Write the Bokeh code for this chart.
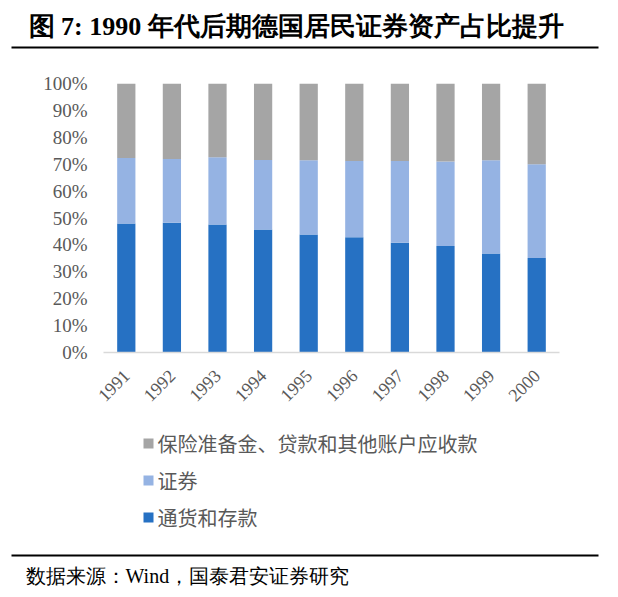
from math import pi

from bokeh.plotting import figure
from bokeh.layouts import column
from bokeh.models import ColumnDataSource, Range1d, FixedTicker
from bokeh.core.properties import value
from bokeh.embed import file_html
from bokeh.resources import INLINE

# ---------------- data ----------------
years = ["1991", "1992", "1993", "1994", "1995", "1996", "1997", "1998", "1999", "2000"]
cash_deposits = [48.0, 48.2, 47.6, 45.7, 43.9, 42.8, 40.8, 39.6, 36.8, 35.1]
securities = [24.3, 23.7, 25.0, 25.9, 27.6, 28.4, 30.4, 31.4, 34.7, 34.9]
insurance_other = [27.7, 28.1, 27.4, 28.4, 28.5, 28.8, 28.8, 29.0, 28.5, 30.0]

series_keys = ["cash", "sec", "other"]
series_names = ["通货和存款", "证券", "保险准备金、贷款和其他账户应收款"]
series_colors = ["#2671C3", "#95B3E3", "#A5A5A5"]

y_ticks = [0, 10, 20, 30, 40, 50, 60, 70, 80, 90, 100]
y_tick_labels = ["0%", "10%", "20%", "30%", "40%", "50%", "60%", "70%", "80%", "90%", "100%"]

title_text = "图 7: 1990 年代后期德国居民证券资产占比提升"
source_text = "数据来源：Wind，国泰君安证券研究"

LABEL_GRAY = "#595959"
W = 602


def blank_fig(h):
    f = figure(width=W, height=h, x_range=Range1d(0, W), y_range=Range1d(h, 0),
               output_backend="svg", toolbar_location=None, min_border=0,
               x_axis_location=None, y_axis_location=None, frame_align=False)
    f.grid.visible = False
    f.outline_line_color = None
    return f


# ---------------- title ----------------
TH = 60
tp = blank_fig(TH)
tp.text(x=[28], y=[26], text=[title_text], text_font=value("Liberation Serif"),
        text_font_style="bold", text_font_size="26px", text_baseline="middle",
        text_color="black")
tp.segment(x0=[11], y0=[47], x1=[598], y1=[47], line_color="black", line_width=2)

# ---------------- chart ----------------
n = len(years)
xpos = [i + 0.5 for i in range(n)]
src = ColumnDataSource(dict(x=xpos, cash=cash_deposits, sec=securities, other=insurance_other))

CH = 360
p = figure(width=W, height=CH, x_range=Range1d(0, n), y_range=Range1d(0, 100),
           output_backend="svg", toolbar_location=None, frame_align=False,
           min_border_left=103, min_border_right=W - 559,
           min_border_top=83 - TH, min_border_bottom=TH + CH - 352)
p.vbar_stack(series_keys, x="x", width=0.4, color=series_colors, line_color=None, source=src)

p.grid.visible = False
p.outline_line_color = None

p.yaxis.ticker = FixedTicker(ticks=y_ticks)
p.yaxis.major_label_overrides = {t: l for t, l in zip(y_ticks, y_tick_labels)}
p.yaxis.axis_line_color = None
p.yaxis.major_tick_line_color = None
p.yaxis.major_tick_out = 0
p.yaxis.major_tick_in = 0
p.yaxis.minor_tick_line_color = None
p.yaxis.major_label_text_font = "Liberation Serif"
p.yaxis.major_label_text_font_size = "19px"
p.yaxis.major_label_text_color = LABEL_GRAY
p.yaxis.major_label_standoff = 16

p.xaxis.ticker = FixedTicker(ticks=xpos)
p.xaxis.major_label_overrides = {x: y for x, y in zip(xpos, years)}
p.xaxis.axis_line_color = "#D9D9D9"
p.xaxis.axis_line_width = 1.5
p.xaxis.major_tick_line_color = None
p.xaxis.major_tick_out = 0
p.xaxis.major_tick_in = 0
p.xaxis.minor_tick_line_color = None
p.xaxis.major_label_orientation = pi / 4
p.xaxis.major_label_text_font = "Liberation Serif"
p.xaxis.major_label_text_font_size = "18px"
p.xaxis.major_label_text_color = LABEL_GRAY
p.xaxis.major_label_standoff = 20

# ---------------- legend + source ----------------
BH = 172
OFF = TH + CH
bp = blank_fig(BH)
rows = [443 - OFF, 480 - OFF, 517 - OFF]
order = [2, 1, 0]
bp.rect(x=[148] * 3, y=rows, width=10, height=10,
        color=[series_colors[i] for i in order], line_color=None)
bp.text(x=[157] * 3, y=rows, text=[series_names[i] for i in order],
        text_font=value("Noto Sans CJK SC"), text_font_size="20px",
        text_baseline="middle", text_color=LABEL_GRAY)
bp.segment(x0=[11], y0=[555 - OFF], x1=[598], y1=[555 - OFF],
           line_color="black", line_width=2)
bp.text(x=[25], y=[575 - OFF], text=[source_text], text_font=value("Liberation Serif"),
        text_font_size="20px", text_baseline="middle", text_color="black")

layout = column(tp, p, bp, spacing=0)

with open("out.html", "w") as fh:
    fh.write(file_html(layout, INLINE))
